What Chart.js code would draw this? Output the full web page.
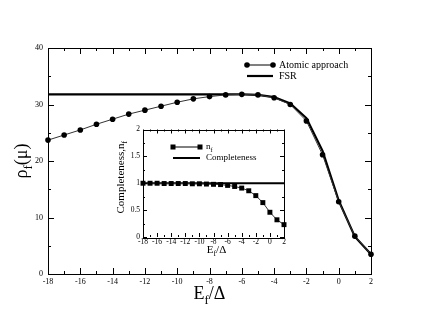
<!DOCTYPE html>
<html>
<head>
<meta charset="utf-8">
<script src="https://cdn.jsdelivr.net/npm/chart.js@4/dist/chart.umd.min.js"></script>
<style>
  html, body { margin: 0; padding: 0; background: #fff; }
  #wrap { position: relative; width: 430px; height: 332px; }
  #main { position: absolute; left: 0; top: 0; }
  #inset { position: absolute; left: 100px; top: 122px; }
</style>
</head>
<body>
<div id="wrap">
  <canvas id="main" width="430" height="332"></canvas>
  <canvas id="inset" width="195" height="140"></canvas>
</div>
<script>
/* ---------- data ---------- */
const energias = [-18, -17, -16, -15, -14, -13, -12, -11, -10, -9, -8, -7, -6, -5, -4, -3, -2, -1, 0, 1, 2];

const atomico = [23.7, 24.6, 25.5, 26.5, 27.4, 28.3, 29.0, 29.7, 30.4, 31.0, 31.4, 31.7, 31.8, 31.7, 31.2, 30.0, 27.1, 21.1, 12.8, 6.7, 3.5];
const fsr = [31.8, 31.8, 31.8, 31.8, 31.8, 31.8, 31.8, 31.8, 31.8, 31.8, 31.8, 31.8, 31.8, 31.7, 31.3, 30.2, 27.6, 21.8, 13.0, 6.6, 3.5];

const nf = [1.0, 1.0, 1.0, 0.995, 0.995, 0.995, 0.995, 0.99, 0.99, 0.985, 0.98, 0.975, 0.96, 0.94, 0.91, 0.86, 0.77, 0.64, 0.46, 0.32, 0.23];
const completitud = [1, 1, 1, 1, 1, 1, 1, 1, 1, 1, 1, 1, 1, 1, 1, 1, 1, 1, 1, 1, 1];

const etiquetasMain = ["Atomic approach", "FSR"];
const etiquetasInset = ["n", "Completeness"];

const FUENTE = "'Liberation Serif', 'DejaVu Serif', serif";

/* ---------- helpers ---------- */
function puntos(xs, ys) {
    return xs.map((x, i) => ({ x: x, y: ys[i] }));
}

// text with subscripts, drawn piece by piece
function textoSub(ctx, partes, x, y, size, rot) {
    ctx.save();
    ctx.translate(x, y);
    if (rot) ctx.rotate(rot);
    let total = 0;
    partes.forEach(p => {
        ctx.font = (p.sub ? size * 0.7 : size) + "px " + FUENTE;
        total += ctx.measureText(p.t).width;
    });
    let cx = -total / 2;
    ctx.fillStyle = "#000";
    ctx.textBaseline = "alphabetic";
    ctx.textAlign = "left";
    partes.forEach(p => {
        ctx.font = (p.sub ? size * 0.7 : size) + "px " + FUENTE;
        ctx.fillText(p.t, cx, p.sub ? size * 0.3 : 0);
        cx += ctx.measureText(p.t).width;
    });
    ctx.restore();
}

/* frame + inward ticks on all four sides */
const marcoPlugin = {
    id: "marco",
    afterDraw(chart, args, o) {
        const ctx = chart.ctx;
        const a = chart.chartArea;
        const sx = chart.scales.x, sy = chart.scales.y;
        ctx.save();
        ctx.strokeStyle = "#000";
        ctx.lineWidth = 1;
        ctx.strokeRect(Math.round(a.left) + 0.5, Math.round(a.top) + 0.5,
            Math.round(a.right - a.left), Math.round(a.bottom - a.top));
        ctx.beginPath();
        for (let v = sx.min; v <= sx.max + 1e-9; v += o.xMinor) {
            const len = Math.abs(v / o.xMajor - Math.round(v / o.xMajor)) < 1e-6 ? o.mayor : o.menor;
            const px = Math.round(sx.getPixelForValue(v)) + 0.5;
            ctx.moveTo(px, a.bottom); ctx.lineTo(px, a.bottom - len);
            ctx.moveTo(px, a.top); ctx.lineTo(px, a.top + len);
        }
        for (let v = sy.min; v <= sy.max + 1e-9; v += o.yMinor) {
            const len = Math.abs(v / o.yMajor - Math.round(v / o.yMajor)) < 1e-6 ? o.mayor : o.menor;
            const py = Math.round(sy.getPixelForValue(v)) + 0.5;
            ctx.moveTo(a.left, py); ctx.lineTo(a.left + len, py);
            ctx.moveTo(a.right, py); ctx.lineTo(a.right - len, py);
        }
        ctx.stroke();
        ctx.restore();
    }
};

/* axis titles and legend */
const textosPlugin = {
    id: "textos",
    afterDraw(chart, args, o) {
        const ctx = chart.ctx;
        const a = chart.chartArea;
        textoSub(ctx, o.xTitulo, (a.left + a.right) / 2 + o.xDx, o.xY, o.size, 0);
        textoSub(ctx, o.yTitulo, o.yX, (a.top + a.bottom) / 2 + o.yDy, o.size, -Math.PI / 2);

        ctx.save();
        o.leyenda.forEach((l, i) => {
            const y = o.legY + i * o.legDy;
            ctx.strokeStyle = "#000";
            ctx.lineWidth = l.ancho;
            ctx.beginPath();
            ctx.moveTo(o.legX, y);
            ctx.lineTo(o.legX + o.legLen, y);
            ctx.stroke();
            ctx.fillStyle = "#000";
            if (l.marca === "circle") {
                [o.legX, o.legX + o.legLen].forEach(mx => {
                    ctx.beginPath();
                    ctx.arc(mx, y, 2.8, 0, Math.PI * 2);
                    ctx.fill();
                });
            } else if (l.marca === "rect") {
                [o.legX, o.legX + o.legLen].forEach(mx => {
                    ctx.fillRect(mx - 2.5, y - 2.5, 5, 5);
                });
            }
            let cx = o.legX + o.legLen + 6;
            ctx.textBaseline = "middle";
            ctx.textAlign = "left";
            l.texto.forEach(p => {
                ctx.font = (p.sub ? o.legSize * 0.7 : o.legSize) + "px " + FUENTE;
                ctx.fillText(p.t, cx, y + (p.sub ? o.legSize * 0.35 : 0));
                cx += ctx.measureText(p.t).width;
            });
        });
        ctx.restore();
    }
};

/* ---------- main chart ---------- */
new Chart(document.getElementById("main"), {
    type: "line",
    data: {
        datasets: [
            {
                label: etiquetasMain[0],
                data: puntos(energias, atomico),
                borderColor: "#333",
                borderWidth: 1,
                pointRadius: 2.8,
                pointBackgroundColor: "#000",
                pointBorderWidth: 0,
                tension: 0,
                clip: false
            },
            {
                label: etiquetasMain[1],
                data: puntos(energias, fsr),
                borderColor: "#000",
                borderWidth: 2.2,
                pointRadius: 0,
                tension: 0,
                clip: false
            }
        ]
    },
    options: {
        responsive: false,
        animation: false,
        layout: { padding: { top: 48, right: 59, left: 0, bottom: 0 } },
        plugins: {
            legend: { display: false },
            tooltip: { enabled: false },
            marco: { xMajor: 2, xMinor: 1, yMajor: 10, yMinor: 5, mayor: 6, menor: 3 },
            textos: {
                size: 18,
                xTitulo: [{ t: "E" }, { t: "f", sub: true }, { t: "/Δ" }],
                xDx: 0, xY: 299,
                yTitulo: [{ t: "ρ" }, { t: "f", sub: true }, { t: "(μ)" }],
                yX: 27, yDy: 0,
                leyenda: [
                    { texto: [{ t: etiquetasMain[0] }], marca: "circle", ancho: 1 },
                    { texto: [{ t: etiquetasMain[1] }], marca: null, ancho: 2.2 }
                ],
                legX: 247, legY: 65, legDy: 11, legLen: 26, legSize: 10
            }
        },
        scales: {
            x: {
                type: "linear",
                min: -18, max: 2,
                grid: { display: false, drawTicks: false },
                border: { display: false },
                ticks: {
                    stepSize: 2, padding: 3, color: "#000",
                    font: { family: FUENTE, size: 8 },
                    maxRotation: 0, autoSkip: false
                },
                afterFit(s) { s.height = 58; }
            },
            y: {
                min: 0, max: 40,
                grid: { display: false, drawTicks: false },
                border: { display: false },
                ticks: {
                    stepSize: 10, padding: 5, color: "#000",
                    font: { family: FUENTE, size: 8 }
                },
                afterFit(s) { s.width = 48; }
            }
        }
    },
    plugins: [marcoPlugin, textosPlugin]
});

/* ---------- inset ---------- */
new Chart(document.getElementById("inset"), {
    type: "line",
    data: {
        datasets: [
            {
                label: etiquetasInset[0],
                data: puntos(energias, nf),
                borderColor: "#333",
                borderWidth: 1,
                pointStyle: "rect",
                pointRadius: 3.5,
                pointBackgroundColor: "#000",
                pointBorderWidth: 0,
                tension: 0,
                clip: false
            },
            {
                label: etiquetasInset[1],
                data: puntos(energias, completitud),
                borderColor: "#000",
                borderWidth: 2,
                pointRadius: 0,
                tension: 0,
                clip: false
            }
        ]
    },
    options: {
        responsive: false,
        animation: false,
        layout: { padding: { top: 6, right: 11, left: 0, bottom: 0 } },
        plugins: {
            legend: { display: false },
            tooltip: { enabled: false },
            marco: { xMajor: 2, xMinor: 1, yMajor: 0.5, yMinor: 0.25, mayor: 4, menor: 2 },
            textos: {
                size: 11,
                xTitulo: [{ t: "E" }, { t: "f", sub: true }, { t: "/Δ" }],
                xDx: 3, xY: 131,
                yTitulo: [{ t: "Completeness,n" }, { t: "f", sub: true }],
                yX: 24, yDy: -6,
                leyenda: [
                    { texto: [{ t: etiquetasInset[0] }, { t: "f", sub: true }], marca: "rect", ancho: 1 },
                    { texto: [{ t: etiquetasInset[1] }], marca: null, ancho: 2 }
                ],
                legX: 73, legY: 25, legDy: 11, legLen: 27, legSize: 9
            }
        },
        scales: {
            x: {
                type: "linear",
                min: -18, max: 2,
                grid: { display: false, drawTicks: false },
                border: { display: false },
                ticks: {
                    stepSize: 2, padding: 1, color: "#000",
                    font: { family: FUENTE, size: 7.5 },
                    maxRotation: 0, autoSkip: false
                },
                afterFit(s) { s.height = 25; }
            },
            y: {
                min: 0, max: 2,
                grid: { display: false, drawTicks: false },
                border: { display: false },
                ticks: {
                    stepSize: 0.5, padding: 3, color: "#000",
                    font: { family: FUENTE, size: 7.5 },
                    callback: v => String(v)
                },
                afterFit(s) { s.width = 43; }
            }
        }
    },
    plugins: [marcoPlugin, textosPlugin]
});
</script>
</body>
</html>
